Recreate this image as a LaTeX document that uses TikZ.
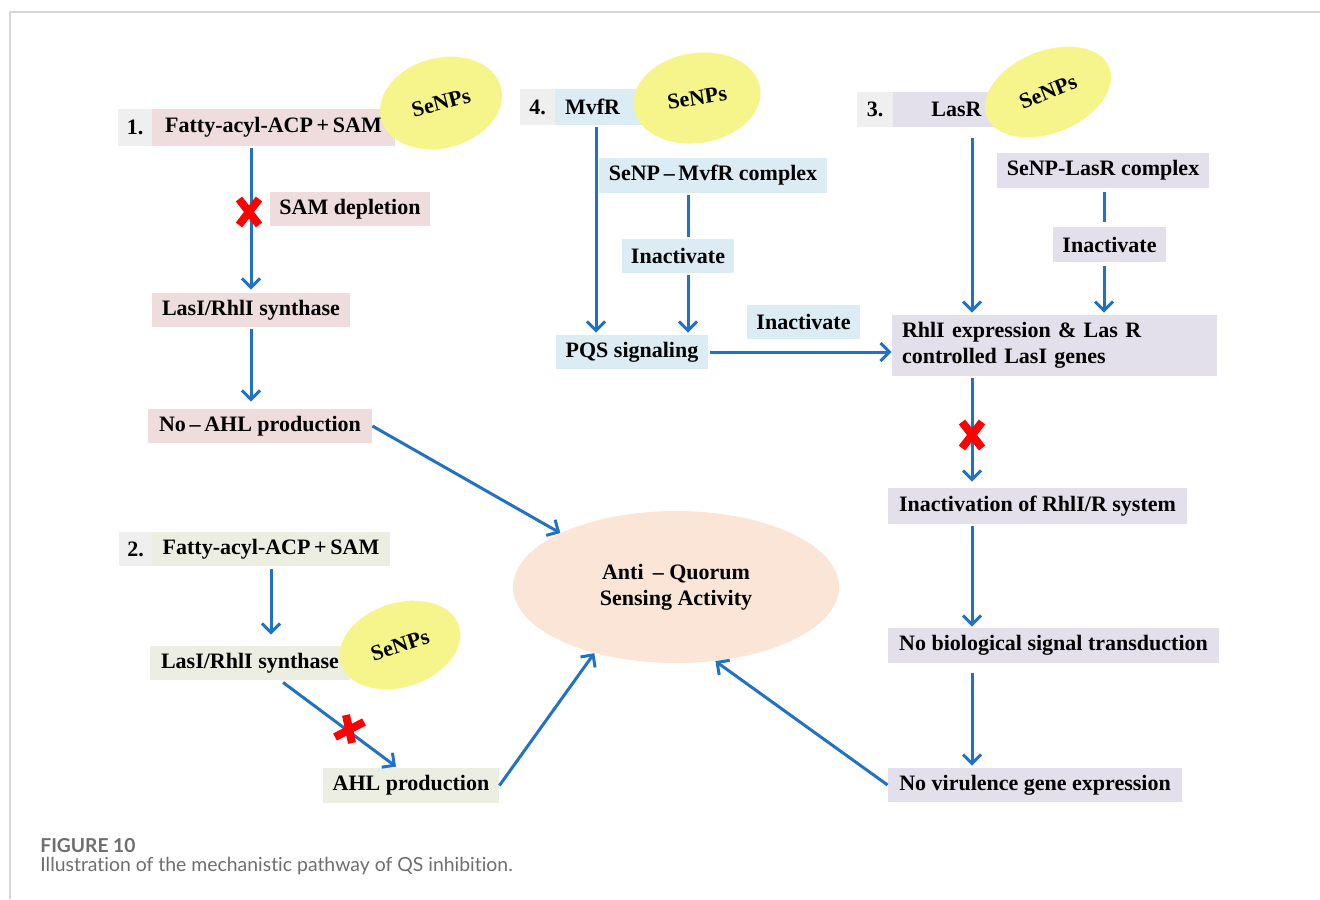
\documentclass[tikz,border=0pt]{standalone}
\usepackage{fontspec}
\setmainfont{Liberation Serif}
\newfontfamily\capfont[Ligatures={NoCommon}]{Lato}
\usetikzlibrary{arrows.meta,calc,shapes.geometric}
\definecolor{pinkc}{HTML}{EFDCDC}
\definecolor{greenc}{HTML}{EBEEE0}
\definecolor{bluec}{HTML}{DCECF4}
\definecolor{lavc}{HTML}{E4E0EB}
\definecolor{grayc}{HTML}{EFEFEF}
\definecolor{yelc}{HTML}{F6F58C}
\definecolor{peachc}{HTML}{FBE5D6}
\definecolor{arrc}{HTML}{2272C3}
\definecolor{framec}{HTML}{D6D6D6}
\definecolor{capc}{HTML}{6E6E6E}
\begin{document}
\begin{tikzpicture}[x=0.5pt,y=-0.5pt,
  bx/.style={fill=#1, draw=none, minimum height=17pt, inner xsep=3pt, inner ysep=0pt,
    font=\fontsize{11}{13}\selectfont\bfseries, text=black},
  senp/.style={ellipse, fill=yelc, draw=none, inner sep=0pt,
    font=\fontsize{11}{13}\selectfont\bfseries},
  arr/.style={draw=arrc, line width=1.5pt, -{Straight Barb[length=4.5pt,width=9pt,line width=1.5pt]},
    shorten <=1pt, shorten >=1pt},
  ln/.style={draw=arrc, line width=1.5pt, shorten <=1pt, shorten >=1pt},
  redx/.style={draw=red, line width=4pt},
  capt/.style={anchor=base west, inner sep=0pt, text=capc}
]
\useasboundingbox (0,0) rectangle (1320,899);
\draw[framec, line width=0.8pt] (10,899) -- (10,12) -- (1320,12);

% ---------- Pathway 1 ----------
\node[bx=grayc, minimum width=17pt, minimum height=18.5pt] (n1) at (135,127.5) {1.};
\node[bx=pinkc, minimum width=121.5pt, minimum height=18.5pt] (f1) at (273.5,127.5) {Fatty-acyl-ACP\,+\,SAM};
\node[bx=pinkc, minimum width=80pt] (sam) at (350,209) {SAM depletion};
\node[bx=pinkc, minimum width=99pt] (las1) at (251,310) {LasI/RhlI synthase};
\node[bx=pinkc, minimum width=112pt] (noahl) at (260,426) {No\,–\,AHL production};

% ---------- Pathway 2 ----------
\node[bx=grayc, minimum width=16.5pt] (n2) at (135.5,549) {2.};
\node[bx=greenc, minimum width=119pt] (f2) at (271,549) {Fatty-acyl-ACP\,+\,SAM};
\node[bx=greenc, minimum width=100pt] (las2) at (250,663) {LasI/RhlI synthase};
\node[bx=greenc, minimum width=88pt, minimum height=17.5pt] (ahl) at (411,785.5) {AHL production};

% ---------- Pathway 4 ----------
\node[bx=grayc, minimum width=17.5pt, minimum height=18pt] (n4) at (537.5,107) {4.};
\node[bx=bluec, minimum height=18pt, inner xsep=5pt, text width=37.5pt, align=left] (mvfr) at (602.5,107) {MvfR};
\node[bx=bluec, minimum width=114pt, minimum height=17.5pt] (cplx4) at (713,175.5) {SeNP\,–\,MvfR complex};
\node[bx=bluec, minimum width=56pt] (inact4a) at (678,256) {Inactivate};
\node[bx=bluec, minimum width=76pt] (pqs) at (632,352) {PQS signaling};
\node[bx=bluec, minimum width=56.5pt] (inact4b) at (803.5,322) {Inactivate};

% ---------- Pathway 3 ----------
\node[bx=grayc, minimum width=18pt, minimum height=17.5pt] (n3) at (875,109.5) {3.};
\node[bx=lavc, minimum width=63.5pt, minimum height=17.5pt] (lasr) at (956.5,109.5) {LasR};
\node[bx=lavc, minimum width=106pt, minimum height=17.5pt] (cplx3) at (1103,170.5) {SeNP-LasR complex};
\node[bx=lavc, minimum width=56.5pt, minimum height=17.5pt] (inact3) at (1109.5,244.5) {Inactivate};
\node[bx=lavc, minimum height=30.5pt, inner xsep=5pt, text width=152.5pt, align=left] (rhl) at (1054.5,345.5)
  {RhlI expression \& Las R\\controlled LasI genes};
\node[bx=lavc, minimum width=149.5pt, minimum height=18pt] (inactrhl) at (1037.5,506) {Inactivation of RhlI/R system};
\node[bx=lavc, minimum width=165.5pt, minimum height=17.5pt] (nobio) at (1053.5,645.5) {No biological signal transduction};
\node[bx=lavc, minimum width=147pt] (novir) at (1035,785) {No virulence gene expression};

% ---------- SeNPs ellipses ----------
\node[senp, minimum width=62pt, minimum height=45pt, rotate=15] (e1) at (441,103) {SeNPs};
\node[senp, minimum width=62pt, minimum height=42pt, rotate=18] (e2) at (400,645) {SeNPs};
\node[senp, minimum width=64pt, minimum height=45pt, rotate=9] (e3) at (697,98) {SeNPs};
\node[senp, minimum width=66pt, minimum height=41pt, rotate=22] (e4) at (1048,92) {SeNPs};

% ---------- Centre ----------
\node[ellipse, fill=peachc, draw=none, minimum width=163pt, minimum height=76pt, inner sep=0pt,
  font=\fontsize{11}{13}\selectfont\bfseries, align=center] (qs) at (676,587)
  {Anti~\,–~Quorum\\Sensing Activity};

% ---------- columns ----------
\coordinate (c4a) at (596,0);
\coordinate (c4b) at (688,0);
\coordinate (c3) at (972,0);
\coordinate (c3b) at (1104,0);

% ---------- connectors ----------
\draw[arr, shorten >=1.5pt] (f1.south -| las1.north) -- (las1.north);
\draw[arr, shorten >=3.5pt] (las1.south) -- (las1.south |- noahl.north);
\draw[arr, shorten <=0pt, shorten >=0pt] (noahl.east) -- (qs.155);

\draw[arr, shorten <=1.5pt, shorten >=5.5pt] (f2.south) -- (f2.south |- las2.north);
\draw[arr, shorten <=0pt, shorten >=0pt] ($(las2.south)+(33,2)$) -- ($(ahl.north)+(-15,-1)$);
\draw[arr, shorten <=0pt, shorten >=0pt] (ahl.east) -- (qs.219);

\draw[arr] (mvfr.south -| c4a) -- (pqs.north -| c4a);
\draw[ln] (cplx4.south -| c4b) -- (inact4a.north -| c4b);
\draw[arr] (inact4a.south -| c4b) -- (pqs.north -| c4b);
\draw[arr, shorten <=1pt, shorten >=0pt] (pqs.east) -- (pqs.east -| rhl.west);

\draw[arr, shorten <=5.5pt] (lasr.south -| c3) -- (rhl.north -| c3);
\draw[ln, shorten <=2pt, shorten >=2.5pt] (cplx3.south -| c3b) -- (inact3.north -| c3b);
\draw[arr, shorten <=2pt] (inact3.south -| c3b) -- (rhl.north -| c3b);
\draw[arr, shorten >=3pt] (rhl.south -| c3) -- (inactrhl.north -| c3);
\draw[arr, shorten >=0.5pt] (inactrhl.south -| c3) -- (nobio.north -| c3);
\draw[arr, shorten <=5pt] (nobio.south -| c3) -- (novir.north -| c3);
\draw[arr, shorten <=0pt, shorten >=0pt] (novir.west) -- (qs.298);

% ---------- red crosses ----------
\coordinate (x1) at (249,212);
\draw[redx] ($(x1)+(-10,-13)$) -- ($(x1)+(10,13)$);
\draw[redx] ($(x1)+(10,-13)$) -- ($(x1)+(-10,13)$);
\coordinate (x2) at (349,729);
\draw[redx] ($(x2)+(-14,8)$) -- ($(x2)+(15,-7)$);
\draw[redx] ($(x2)+(-3,-14)$) -- ($(x2)+(3,14)$);
\coordinate (x3) at (972,435);
\draw[redx] ($(x3)+(-10,-13)$) -- ($(x3)+(10,13)$);
\draw[redx] ($(x3)+(10,-13)$) -- ($(x3)+(-10,13)$);

% ---------- caption ----------
\node[capt, font=\capfont\bfseries\fontsize{9.6}{11}\selectfont] (fig) at (40,852) {FIGURE 10};
\node[capt, font=\capfont\fontsize{9.7}{11}\selectfont] (cap) at (40,871) {Illustration of the mechanistic pathway of QS inhibition.};
\end{tikzpicture}
\end{document}
